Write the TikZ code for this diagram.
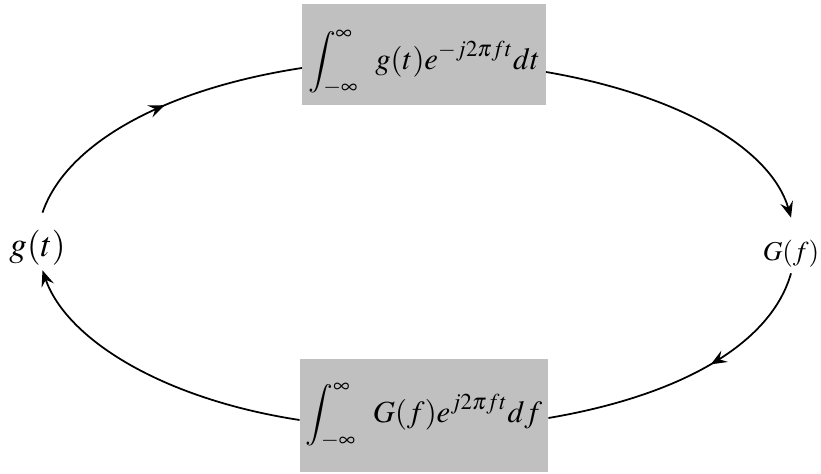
\documentclass[tikz,border=0pt]{standalone}
\usepackage{mathptmx}
\usetikzlibrary{arrows.meta,positioning,decorations.markings}
\definecolor{boxgray}{RGB}{192,192,192}

\begin{document}
\begin{tikzpicture}[node distance=7.22cm, >={Stealth[length=3.2mm,width=2.6mm,inset=1.2mm]}]
        % Define styles
        \tikzstyle{block} = [rectangle, fill=boxgray, minimum width=4.84cm,
            text centered, font=\fontsize{17.5}{19}\selectfont]
        \tikzstyle{label} = [inner sep=0pt]
        \tikzstyle{line} = [line width=1pt]
        \tikzstyle{arrow} = [line width=1pt,->]

        \useasboundingbox (0,0) rectangle (16.42,-9.48);

        % Nodes
        \node [block, minimum height=2.02cm, text height=1.0cm, text depth=0.4cm] (fwd) at (8.48,-1.09)
            {$\displaystyle\int_{-\infty}^{\infty}\;\; g(t)e^{-j2\pi ft}dt$};
        \node [block, minimum height=2.26cm, text height=0.8cm, text depth=0.52cm, below of=fwd] (inv)
            {$\displaystyle\int_{-\infty}^{\infty}\;\; G(f)e^{j2\pi ft}df$};
        \node [label, text height=0.88cm, text depth=0.26cm,
            font=\fontsize{20}{22}\selectfont] (gt) at (0.75,-4.83) {$g(t)$};
        \node [label, text height=0.86cm, text depth=0.24cm,
            font=\fontsize{15.5}{17}\selectfont] (Gf) at (15.82,-4.91) {$G(f)$};

        % Arrows
        \draw [line, postaction={decorate},
            decoration={markings, mark=at position 0.54 with {\arrow{>}}}]
            ([xshift=0.1cm]gt.north) .. controls +(0.47,1.38) and +(-2.75,-0.42) .. ([yshift=-0.27cm]fwd.west);
        \draw [arrow] ([yshift=-0.35cm]fwd.east) .. controls +(2.68,-0.46) and +(-0.39,1.37) .. (Gf.north);
        \draw [line, postaction={decorate},
            decoration={markings, mark=at position 0.42 with {\arrow{>}}}]
            (Gf.south) .. controls +(-0.39,-1.38) and +(2.71,0.46) .. ([yshift=-0.05cm]inv.east);
        \draw [arrow] ([yshift=-0.09cm]inv.west) .. controls +(-2.74,0.42) and +(0.48,-1.38) .. ([xshift=0.1cm]gt.south);
    \end{tikzpicture}
\end{document}
